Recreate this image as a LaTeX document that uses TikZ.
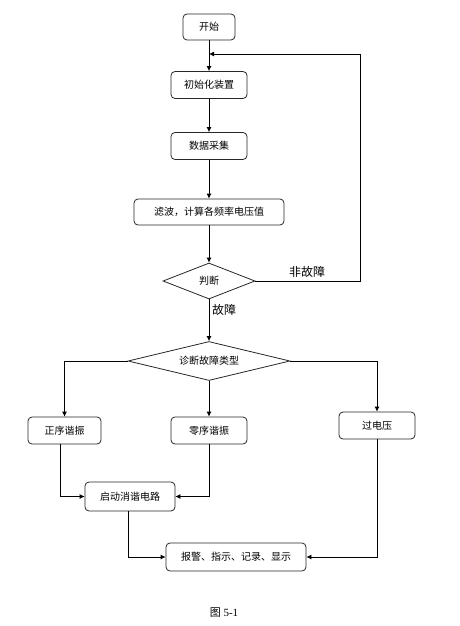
\documentclass[tikz,border=0pt]{standalone}
\usepackage{fontspec}
\setmainfont{Liberation Serif}
\newfontfamily\cjk{Noto Sans CJK SC}
\usetikzlibrary{shapes.geometric,arrows.meta}
\tikzset{
  box/.style={draw=black!85, line width=0.8pt, rounded corners=4pt, minimum width=#1, minimum height=27pt, inner sep=0pt, font=\cjk\fontsize{10}{12}\selectfont, align=center},
  dia/.style={draw=black!85, line width=0.8pt, shape=diamond, inner sep=0pt, font=\cjk\fontsize{10}{12}\selectfont},
  conn/.style={draw=black, line width=0.8pt, -{Latex[length=5pt,width=5pt]}},
  lbl/.style={font=\cjk\fontsize{12}{14}\selectfont, inner sep=0pt},
}
\begin{document}
\begin{tikzpicture}[x=1pt,y=-1pt]
\useasboundingbox (0,0) rectangle (459,626);
\node[box=52pt, minimum height=26pt] (start) at (209,27) {开始};
\node[box=76pt] (init) at (209,85) {初始化装置};
\node[box=76pt] (data) at (209,146) {数据采集};
\node[box=150pt, minimum height=26pt] (filter) at (209,212) {滤波，计算各频率电压值};
\node[dia, shape aspect=2.55, minimum width=92pt, minimum height=36pt] (judge) at (209,281) {判断};
\node[dia, shape aspect=4.15, minimum width=162pt, minimum height=39pt] (diag) at (209,361) {诊断故障类型};
\node[box=73pt] (pos) at (64.5,430.5) {正序谐振};
\node[box=76pt] (zero) at (209,430.5) {零序谐振};
\node[box=76pt] (over) at (377,425.5) {过电压};
\node[box=90pt, minimum height=29pt] (elim) at (130,496.5) {启动消谐电路};
\node[box=140pt, minimum height=28pt] (alarm) at (236,557) {报警、指示、记录、显示};
\coordinate (fb) at (209,54);
\coordinate (fbr) at (360,54);
\node[lbl] (nf) at (307,272) {非故障};
\node[lbl] (f) at (224,310) {故障};
\node[inner sep=0pt, font=\fontsize{11}{13}\selectfont] (cap) at (224,613) {{\cjk 图} 5-1};
\draw[conn] (start) -- (init);
\draw[conn] (init) -- (data);
\draw[conn] (data) -- (filter);
\draw[conn] (filter) -- (judge);
\draw[conn] (judge) -- (diag);
\draw[conn] (judge.east) -| (fbr) -- (fb);
\draw[conn] (diag.west) -| (pos.north);
\draw[conn] (diag) -- (zero);
\draw[conn] (diag.east) -| (over.north);
\draw[conn] ([xshift=-4pt]pos.south) |- (elim.west);
\draw[conn] (zero.south) |- (elim.east);
\draw[conn] ([xshift=-2pt]elim.south) |- (alarm.west);
\draw[conn] (over.south) |- (alarm.east);
\end{tikzpicture}
\end{document}
